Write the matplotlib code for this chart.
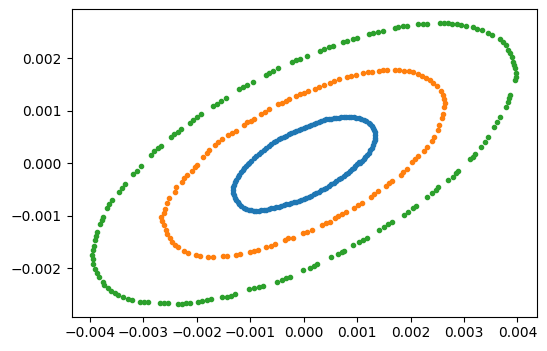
import numpy as np
import matplotlib
matplotlib.use("Agg")
import matplotlib.pyplot as plt

# values in units of 1e-3
blue_x = [-1.025, -0.931, -0.838, -0.744, -0.651, -0.557, -0.464, -0.371, -0.277, -0.183,
          -0.090, 0.004, 0.097, 0.191, 0.284, 0.378, 0.471, 0.564, 0.658, 0.751,
          0.845, 0.938, 1.032, 1.125, 1.219, 1.280, 1.323, 1.342, 1.331, 1.299,
          1.249, 1.187, 1.125, 1.062,
          1.032, 0.968, 0.907, 0.832, 0.751, 0.658, 0.564, 0.471, 0.378, 0.284,
          0.191, 0.097, 0.004, -0.090, -0.183, -0.277, -0.371, -0.464, -0.557, -0.651,
          -0.744, -0.838, -0.931, -1.025, -1.118, -1.200, -1.262, -1.305, -1.323, -1.305,
          -1.262, -1.200, -1.136, -1.075,
          -0.981, -0.888, -0.794, -0.701, -0.607, -0.514, -0.421, -0.327, -0.234, -0.140,
          -0.047, 0.047, 0.140, 0.234, 0.327, 0.421, 0.514, 0.607, 0.701, 0.794,
          0.888, 0.981, 1.075, 1.168, 1.249, 1.305, 1.336, 1.336, 1.318, 1.275,
          1.219, 1.155, 1.093,
          1.000, 0.938, 0.869, 0.794, 0.707, 0.613, 0.520, 0.426, 0.333, 0.239,
          0.146, 0.052, -0.041, -0.135, -0.228, -0.321, -0.415, -0.508, -0.602, -0.695,
          -0.789, -0.882, -0.976, -1.075, -1.163, -1.230, -1.286, -1.318, -1.318, -1.286,
          -1.230, -1.168, -1.107, -1.037]
blue_y = [0.000, 0.095, 0.171, 0.253, 0.335, 0.400, 0.457, 0.501, 0.552, 0.590,
          0.629, 0.667, 0.710, 0.749, 0.792, 0.825, 0.844, 0.857, 0.869, 0.876,
          0.876, 0.876, 0.857, 0.825, 0.773, 0.710, 0.634, 0.539, 0.444, 0.349,
          0.253, 0.158, 0.082, 0.000,
          0.030, -0.051, -0.114, -0.179, -0.242, -0.305, -0.370, -0.432, -0.490, -0.541,
          -0.590, -0.636, -0.680, -0.718, -0.743, -0.770, -0.794, -0.827, -0.846, -0.870,
          -0.890, -0.903, -0.903, -0.890, -0.846, -0.781, -0.699, -0.604, -0.509, -0.413,
          -0.318, -0.223, -0.128, -0.051,
          0.044, 0.133, 0.215, 0.297, 0.368, 0.430, 0.482, 0.526, 0.571, 0.610,
          0.648, 0.691, 0.730, 0.773, 0.811, 0.838, 0.850, 0.863, 0.876, 0.876,
          0.876, 0.869, 0.844, 0.800, 0.743, 0.672, 0.590, 0.488, 0.400, 0.297,
          0.202, 0.120, 0.044,
          -0.013, -0.084, -0.147, -0.210, -0.274, -0.337, -0.400, -0.465, -0.514, -0.566,
          -0.617, -0.661, -0.699, -0.731, -0.756, -0.781, -0.813, -0.838, -0.857, -0.884,
          -0.895, -0.903, -0.895, -0.870, -0.813, -0.743, -0.655, -0.560, -0.457, -0.362,
          -0.267, -0.171, -0.090, -0.019]

orange_x = [-1.873, -1.809, -1.761, -1.654, -1.592, -1.518, -1.417, -1.342, -1.267, -1.112,
            -1.050, -0.987, -0.925, -0.794, -0.720, -0.639, -0.482, -0.407, -0.327, -0.265,
            -0.140, -0.065, 0.009, 0.079,
            0.215, 0.295, 0.383, 0.495, 0.576, 0.664, 0.807, 0.888, 0.976, 1.118,
            1.200, 1.275, 1.417, 1.492, 1.566, 1.710, 1.791, 1.879, 1.972, 2.041,
            2.146, 2.221, 2.290, 2.364, 2.426, 2.490, 2.564, 2.602, 2.626, 2.639,
            2.632, 2.613, 2.594, 2.538, 2.508, 2.439, 2.408, 2.315, 2.258, 2.146,
            2.084, 2.034,
            1.929, 1.866, 1.816, 1.660, 1.598, 1.536, 1.399, 1.324, 1.256, 1.100,
            1.025, 0.950, 0.788, 0.714, 0.651, 0.589, 0.495, 0.414, 0.340, 0.153,
            0.072, -0.004, -0.191,
            -0.284, -0.346, -0.533, -0.613, -0.701, -0.845, -0.920, -1.000, -1.187, -1.262,
            -1.436, -1.510, -1.697, -1.779, -1.935, -2.009, -2.153, -2.228, -2.340, -2.402,
            -2.452, -2.495, -2.546, -2.570, -2.602, -2.645, -2.658, -2.607, -2.594, -2.546,
            -2.514, -2.402, -2.383, -2.277, -2.234, -2.183, -2.078, -2.028, -1.996]
orange_y = [0.114, 0.190, 0.253, 0.349, 0.411, 0.457, 0.539, 0.583, 0.621, 0.730,
            0.781, 0.811, 0.838, 0.939, 0.983, 1.029, 1.124, 1.154, 1.192, 1.219,
            1.282, 1.314, 1.345, 1.377,
            1.410, 1.448, 1.486, 1.535, 1.568, 1.600, 1.638, 1.663, 1.688, 1.714,
            1.733, 1.745, 1.764, 1.771, 1.771, 1.777, 1.771, 1.764, 1.758, 1.739,
            1.701, 1.663, 1.625, 1.587, 1.535, 1.472, 1.383, 1.301, 1.219, 1.143,
            1.067, 0.939, 0.857, 0.730, 0.634, 0.507, 0.430, 0.316, 0.240, 0.139,
            0.076, 0.019,
            -0.114, -0.171, -0.223, -0.331, -0.381, -0.432, -0.528, -0.590, -0.648, -0.750,
            -0.800, -0.846, -0.933, -0.971, -1.004, -1.048, -1.112, -1.143, -1.175, -1.270,
            -1.303, -1.333, -1.429,
            -1.429, -1.461, -1.537, -1.570, -1.600, -1.651, -1.670, -1.695, -1.728, -1.741,
            -1.766, -1.771, -1.790, -1.790, -1.766, -1.747, -1.703, -1.665, -1.600, -1.556,
            -1.493, -1.429, -1.347, -1.270, -1.175, -1.099, -1.029, -0.952, -0.876, -0.750,
            -0.667, -0.541, -0.457, -0.350, -0.286, -0.223, -0.141, -0.076, -0.032]

green_x = [-2.856, -2.789, -2.714, -2.669, -2.477, -2.415, -2.351, -2.290, -2.121, -2.060,
           -1.985, -1.910, -1.686, -1.622, -1.542, -1.454, -1.206, -1.136, -1.050, -0.950,
           -0.707, -0.639, -0.564, -0.471, -0.209, -0.140, -0.065, 0.060,
           0.308, 0.389, 0.483, 0.558, 0.732, 0.819, 0.919, 0.994, 1.231, 1.305,
           1.399, 1.492, 1.710, 1.773, 1.866, 1.941, 2.146, 2.227, 2.315, 2.551,
           2.626, 2.707, 2.782, 2.863, 2.938, 3.032, 3.174, 3.249, 3.330, 3.455,
           3.517, 3.673, 3.735, 3.785, 3.829, 3.860, 3.891, 3.922, 3.935, 3.953,
           3.972, 3.966, 3.953, 3.860, 3.841, 3.817, 3.785, 3.673, 3.611, 3.561,
           3.455, 3.393, 3.312, 3.206, 3.163, 3.112, 2.893, 2.845, 2.800,
           2.707, 2.520, 2.470, 2.396, 2.315, 2.103, 2.053, 1.959, 1.885, 1.648,
           1.586, 1.511, 1.411, 1.181, 1.118, 1.037, 0.931, 0.763, 0.714, 0.639,
           0.508, 0.258, 0.196, 0.121, -0.004, -0.252,
           -0.327, -0.407, -0.501, -0.751, -0.826, -0.920, -1.013, -1.280, -1.355, -1.436,
           -1.518, -1.735, -1.809, -1.892, -1.966, -2.121, -2.196, -2.277, -2.340, -2.527,
           -2.602, -2.682, -2.901, -2.981, -3.056, -3.211, -3.286, -3.368, -3.462, -3.523,
           -3.598, -3.648, -3.729, -3.753, -3.822, -3.866, -3.897, -3.929, -3.940, -3.948,
           -3.940, -3.916, -3.897, -3.879, -3.866, -3.804, -3.772, -3.753, -3.679, -3.636,
           -3.585, -3.443, -3.398, -3.336, -3.181, -3.118, -3.037]
green_y = [0.158, 0.240, 0.297, 0.330, 0.507, 0.558, 0.602, 0.653, 0.773, 0.825,
           0.876, 0.933, 1.091, 1.130, 1.187, 1.238, 1.410, 1.448, 1.491, 1.549,
           1.682, 1.714, 1.764, 1.810, 1.935, 1.968, 1.987, 2.044,
           2.145, 2.177, 2.209, 2.234, 2.305, 2.335, 2.368, 2.387, 2.457, 2.482,
           2.501, 2.520, 2.571, 2.590, 2.610, 2.621, 2.653, 2.653, 2.653, 2.672,
           2.672, 2.667, 2.659, 2.648, 2.634, 2.621, 2.590, 2.564, 2.539, 2.476,
           2.444, 2.362, 2.316, 2.253, 2.158, 2.095, 2.019, 1.935, 1.872, 1.810,
           1.726, 1.650, 1.587, 1.301, 1.250, 1.173, 1.078, 0.888, 0.792, 0.697,
           0.507, 0.411, 0.316, 0.177, 0.126, 0.076, -0.141, -0.190, -0.255,
           -0.318, -0.457, -0.509, -0.571, -0.636, -0.813, -0.857, -0.922, -0.985, -1.112,
           -1.156, -1.208, -1.270, -1.429, -1.461, -1.505, -1.562, -1.665, -1.690, -1.728,
           -1.790, -1.918, -1.950, -1.989, -2.032, -2.160,
           -2.190, -2.223, -2.255, -2.337, -2.362, -2.381, -2.400, -2.495, -2.522, -2.541,
           -2.552, -2.590, -2.604, -2.629, -2.642, -2.655, -2.667, -2.680, -2.686, -2.667,
           -2.667, -2.667, -2.648, -2.642, -2.636, -2.604, -2.579, -2.552, -2.509, -2.465,
           -2.427, -2.381, -2.318, -2.255, -2.160, -2.095, -2.019, -1.918, -1.829, -1.747,
           -1.651, -1.575, -1.461, -1.385, -1.303, -1.156, -1.080, -1.029, -0.857, -0.775,
           -0.699, -0.541, -0.476, -0.400, -0.204, -0.141, -0.046]

unit = 1e-3

fig = plt.figure(figsize=(5.47, 3.51), dpi=100)
ax = fig.add_axes([0.1311, 0.0977, 0.8501, 0.8758])
for xs, ys in [(blue_x, blue_y), (orange_x, orange_y), (green_x, green_y)]:
    ax.plot(np.array(xs) * unit, np.array(ys) * unit, '.')
ax.set_xlim(-4.335e-3, 4.36e-3)
ax.set_ylim(-2.922e-3, 2.933e-3)
fig.savefig("out.png", dpi=100)
